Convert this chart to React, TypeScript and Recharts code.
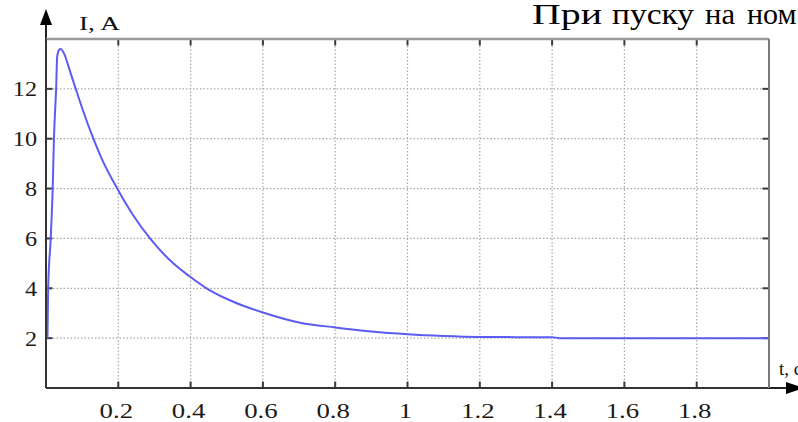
import React from "react";
import { LineChart, Line, XAxis, YAxis, CartesianGrid, Customized, ReferenceLine } from "recharts";

// Time, s
const times = [
  0.004, 0.006, 0.013, 0.0185, 0.022, 0.028, 0.031, 0.036, 0.041, 0.046, 0.052, 0.06,
  0.08, 0.103, 0.131, 0.154, 0.197, 0.241, 0.29, 0.352, 0.396, 0.444, 0.518,
  0.6, 0.703, 0.8, 0.9, 1.0, 1.1, 1.2, 1.3, 1.4, 1.42, 1.6, 1.8, 2.0,
];
// Current, A
const currents = [
  2, 4, 6, 8, 10, 12, 13.3, 13.56, 13.6, 13.52, 13.35, 13.0,
  12.1, 11.1, 10, 9.2, 8, 6.93, 5.96, 5.0, 4.49, 4.0, 3.46,
  3.03, 2.62, 2.43, 2.27, 2.16, 2.09, 2.05, 2.04, 2.04, 2.0, 2.0, 2.0, 2.0,
];
const xTicks = [0.2, 0.4, 0.6, 0.8, 1, 1.2, 1.4, 1.6, 1.8];
const yTicks = [2, 4, 6, 8, 10, 12];
const xTickLabels = ["0.2", "0.4", "0.6", "0.8", "1", "1.2", "1.4", "1.6", "1.8"];
const yAxisLabel = "I, A";
const xAxisLabel = "t, с";
const titleWords = ["При", "пуску", "на", "ном"];
const X_MIN = 0;
const X_MAX = 2;
const Y_MIN = 0;
const Y_MAX = 14;

const data = times.map((t, i) => ({ t, i: currents[i] }));

const W = 798;
const H = 422;
// plot area: left 46, top 39, right 769, bottom 388
const LEFT_AXIS_W = 40;
const RIGHT_AXIS_W = 20;
const TOP_AXIS_H = 20;
const BOTTOM_AXIS_H = 30;
const M = { top: 39 - TOP_AXIS_H, right: 29 - RIGHT_AXIS_W, left: 46 - LEFT_AXIS_W, bottom: 34 - BOTTOM_AXIS_H };
const PLOT = { left: 46, top: 39, right: 769, bottom: 388 };
const SERIF = "'Liberation Serif', 'Times New Roman', serif";
const TICK_COLOR = "#3a3a3a";
// tick mark length, expressed in axis units (about 6-7 px)
const TICK_LEN_X = 0.018;
const TICK_LEN_Y = 0.26;

const BottomTick = (props: any) => {
  const { x, payload, index } = props;
  const label = xTickLabels[index] ?? String(payload.value);
  const y = PLOT.bottom;
  return (
    <text
      transform={`translate(${x - 2},${y + 30}) scale(1.22,1)`}
      textAnchor="middle"
      fontFamily={SERIF}
      fontSize={22}
      fill="#1e1a16"
    >
      {label}
    </text>
  );
};

const LeftTick = (props: any) => {
  const { y, payload } = props;
  const x = PLOT.left;
  return (
    <text
      transform={`translate(${x - 9},${y}) scale(1.1,1)`}
      textAnchor="end"
      dy="0.34em"
      fontFamily={SERIF}
      fontSize={22}
      fill="#1e1a16"
    >
      {String(payload.value)}
    </text>
  );
};

const Decorations = () => {
  const { left, top, bottom, right } = PLOT;
  return (
    <g>
      <line x1={left} y1={top} x2={left} y2={22} stroke="#222" strokeWidth={2} />
      <polygon points={`${left},9 ${left - 6},25 ${left + 6},25`} fill="#000" />
      <line x1={right} y1={bottom} x2={790} y2={bottom} stroke="#222" strokeWidth={2} />
      <polygon points={`786,${bottom - 6} 786,${bottom + 6} 804,${bottom}`} fill="#000" />
      <text x={79} y={30} fontFamily={SERIF} fontSize={19} textLength={41} lengthAdjust="spacingAndGlyphs" fill="#111">
        {yAxisLabel}
      </text>
      <text x={779} y={375} fontFamily={SERIF} fontSize={19} fill="#111">
        {xAxisLabel}
      </text>
      <text fontFamily={SERIF} fontSize={30} fill="#000">
        <tspan x={532} y={24} textLength={70} lengthAdjust="spacingAndGlyphs">{titleWords[0]}</tspan>
        <tspan x={612} y={24} textLength={82} lengthAdjust="spacingAndGlyphs">{titleWords[1]}</tspan>
        <tspan x={705} y={24} textLength={30} lengthAdjust="spacingAndGlyphs">{titleWords[2]}</tspan>
        <tspan x={747} y={24}>{titleWords[3]}</tspan>
      </text>
    </g>
  );
};

export default function App() {
  return (
    <div style={{ position: "absolute", left: 0, top: 0, width: W, height: H, background: "#fff" }}>
      <LineChart width={W} height={H} data={data} margin={M}>
        <CartesianGrid
          stroke="#a8a8a8"
          strokeWidth={1.2}
          strokeDasharray="1.5 2"
          horizontalValues={yTicks}
          verticalValues={xTicks}
        />
        <XAxis
          dataKey="t"
          type="number"
          domain={[X_MIN, X_MAX]}
          ticks={xTicks}
          height={BOTTOM_AXIS_H}
          tickSize={0}
          tickMargin={0}
          axisLine={{ stroke: "#333", strokeWidth: 2 }}
          tickLine={false}
          tick={<BottomTick />}
          interval={0}
          allowDataOverflow
        />
        <XAxis
          xAxisId="top"
          orientation="top"
          dataKey="t"
          type="number"
          domain={[X_MIN, X_MAX]}
          ticks={xTicks}
          height={TOP_AXIS_H}
          tickSize={0}
          tickMargin={0}
          axisLine={{ stroke: "#9a9a9a", strokeWidth: 2.5 }}
          tickLine={false}
          tick={false}
        />
        <YAxis
          type="number"
          domain={[Y_MIN, Y_MAX]}
          ticks={yTicks}
          width={LEFT_AXIS_W}
          tickSize={0}
          tickMargin={0}
          axisLine={{ stroke: "#333", strokeWidth: 2 }}
          tickLine={false}
          tick={<LeftTick />}
          interval={0}
          allowDataOverflow
        />
        <YAxis
          yAxisId="right"
          orientation="right"
          type="number"
          domain={[Y_MIN, Y_MAX]}
          ticks={yTicks}
          width={RIGHT_AXIS_W}
          tickSize={0}
          tickMargin={0}
          axisLine={{ stroke: "#7a7a7a", strokeWidth: 2 }}
          tickLine={false}
          tick={false}
        />
        {xTicks.map((v) => (
          <ReferenceLine
            key={`b${v}`}
            segment={[{ x: v, y: Y_MIN }, { x: v, y: Y_MIN + TICK_LEN_Y }]}
            stroke={TICK_COLOR}
            strokeWidth={2}
            ifOverflow="visible"
          />
        ))}
        {xTicks.map((v) => (
          <ReferenceLine
            key={`t${v}`}
            segment={[{ x: v, y: Y_MAX }, { x: v, y: Y_MAX - TICK_LEN_Y }]}
            stroke={TICK_COLOR}
            strokeWidth={2}
            ifOverflow="visible"
          />
        ))}
        {yTicks.map((v) => (
          <ReferenceLine
            key={`l${v}`}
            segment={[{ x: X_MIN, y: v }, { x: X_MIN + TICK_LEN_X, y: v }]}
            stroke={TICK_COLOR}
            strokeWidth={2}
            ifOverflow="visible"
          />
        ))}
        {yTicks.map((v) => (
          <ReferenceLine
            key={`r${v}`}
            segment={[{ x: X_MAX, y: v }, { x: X_MAX - TICK_LEN_X, y: v }]}
            stroke={TICK_COLOR}
            strokeWidth={2}
            ifOverflow="visible"
          />
        ))}
        <Line
          dataKey="i"
          type="monotone"
          stroke="#5c5cf2"
          strokeWidth={2}
          dot={false}
          isAnimationActive={false}
        />
        <Customized component={Decorations} />
      </LineChart>
    </div>
  );
}
